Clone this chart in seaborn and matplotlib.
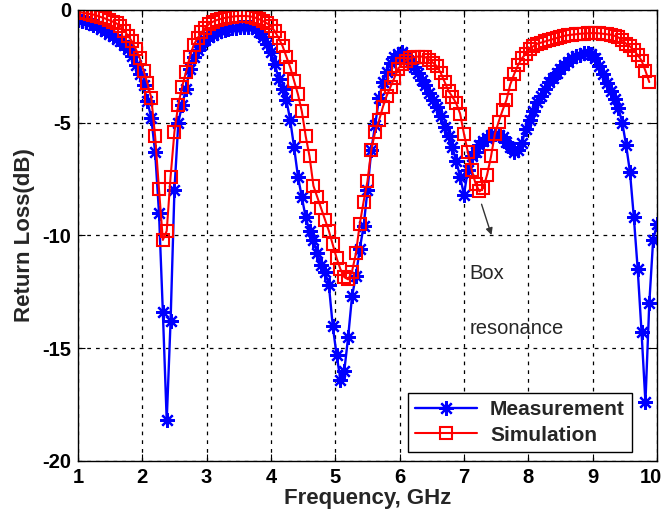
import matplotlib
matplotlib.use("Agg")
import matplotlib.pyplot as plt
import matplotlib.transforms as mtransforms
import seaborn as sns
import numpy as np

freq = [
    1.00, 1.06, 1.12, 1.18, 1.24, 1.30, 1.36, 1.42, 1.48, 1.54, 1.60, 1.66, 1.72, 1.78, 1.84, 1.90, 1.96,
    2.02, 2.08, 2.14, 2.20, 2.26, 2.32, 2.38, 2.44, 2.50, 2.56, 2.62, 2.68, 2.74, 2.80, 2.86, 2.92, 2.98,
    3.04, 3.10, 3.16, 3.22, 3.28, 3.34, 3.40, 3.46, 3.52, 3.58, 3.64, 3.70, 3.76, 3.82, 3.88, 3.94,
    4.00, 4.06, 4.12, 4.18, 4.24, 4.30, 4.36, 4.42, 4.48, 4.54, 4.60, 4.66, 4.72, 4.78, 4.84, 4.90, 4.96,
    5.02, 5.08, 5.14, 5.20, 5.26, 5.32, 5.38, 5.44, 5.50, 5.56, 5.62, 5.68, 5.74, 5.80, 5.86, 5.92, 5.98,
    6.04, 6.10, 6.16, 6.22, 6.28, 6.34, 6.40, 6.46, 6.52, 6.58, 6.64, 6.70, 6.76, 6.82, 6.88, 6.94,
    7.00, 7.06, 7.12, 7.18, 7.24, 7.30, 7.36, 7.42, 7.48, 7.54, 7.60, 7.66, 7.72, 7.78, 7.84, 7.90, 7.96,
    8.02, 8.08, 8.14, 8.20, 8.26, 8.32, 8.38, 8.44, 8.50, 8.56, 8.62, 8.68, 8.74, 8.80, 8.86, 8.92, 8.98,
    9.04, 9.10, 9.16, 9.22, 9.28, 9.34, 9.40, 9.46, 9.52, 9.58, 9.64, 9.70, 9.76, 9.82, 9.88, 9.94,
    10.00,
]

measurement = [
    -0.45, -0.50, -0.55, -0.60, -0.66, -0.73, -0.83, -0.95, -1.08, -1.18, -1.28, -1.40, -1.55, -1.75, -2.05, -2.45, -2.85,
    -3.35, -4.05, -4.80, -6.30, -9.00, -13.40, -18.20, -13.80, -8.00, -5.00, -4.20, -3.50, -2.60, -2.10, -1.80, -1.55, -1.35,
    -1.20, -1.10, -1.02, -0.95, -0.90, -0.86, -0.82, -0.80, -0.77, -0.75, -0.74, -0.76, -0.85, -1.00, -1.20, -1.50,
    -1.85, -2.40, -3.05, -3.50, -4.00, -4.90, -6.10, -7.40, -8.30, -9.20, -9.80, -10.20, -10.80, -11.30, -11.60, -12.20, -14.00,
    -15.30, -16.40, -16.00, -14.50, -12.70, -11.80, -10.60, -9.60, -8.00, -6.20, -5.10, -3.90, -3.20, -2.75, -2.35, -2.10, -1.95,
    -1.85, -2.05, -2.30, -2.55, -2.80, -3.10, -3.35, -3.70, -4.00, -4.30, -4.70, -5.20, -5.60, -6.10, -6.70, -7.40,
    -8.20, -7.10, -6.50, -6.30, -6.00, -5.80, -5.70, -5.55, -5.50, -5.55, -5.65, -5.85, -6.10, -6.30, -6.20, -5.90, -5.30,
    -4.90, -4.50, -4.10, -3.80, -3.50, -3.20, -3.00, -2.80, -2.60, -2.45, -2.30, -2.15, -2.05, -1.98, -1.92, -1.90, -1.95,
    -2.15, -2.50, -2.85, -3.25, -3.60, -3.95, -4.35, -5.00, -6.00, -7.20, -9.20, -11.50, -14.30, -17.40, -13.00, -10.20,
    -9.50,
]

simulation = [
    -0.10, -0.12, -0.15, -0.18, -0.21, -0.26, -0.32, -0.38, -0.45, -0.52, -0.60, -0.72, -0.92, -1.15, -1.40, -1.75, -2.14,
    -2.70, -3.25, -3.90, -5.60, -7.95, -10.20, -9.80, -7.40, -5.40, -4.20, -3.40, -2.75, -2.07, -1.55, -1.25, -1.00, -0.80,
    -0.62, -0.52, -0.45, -0.40, -0.36, -0.33, -0.30, -0.28, -0.27, -0.27, -0.28, -0.30, -0.35, -0.42, -0.50, -0.60,
    -0.72, -0.95, -1.25, -1.60, -2.07, -2.55, -3.15, -3.75, -4.50, -5.60, -6.50, -7.80, -8.30, -8.80, -9.30, -9.80, -10.40,
    -11.00, -11.50, -11.85, -11.95, -11.60, -10.80, -9.50, -8.50, -7.60, -6.20, -5.40, -4.90, -4.30, -3.80, -3.40, -3.00, -2.60,
    -2.40, -2.25, -2.15, -2.10, -2.07, -2.07, -2.10, -2.20, -2.35, -2.50, -2.80, -3.20, -3.60, -3.85, -4.15, -4.60,
    -5.50, -6.30, -7.10, -7.70, -8.05, -7.90, -7.30, -6.50, -5.50, -4.95, -4.45, -4.00, -3.30, -2.85, -2.45, -2.15, -1.95,
    -1.75, -1.60, -1.50, -1.45, -1.40, -1.35, -1.30, -1.25, -1.20, -1.15, -1.12, -1.10, -1.08, -1.06, -1.05, -1.04, -1.03,
    -1.03, -1.04, -1.06, -1.08, -1.10, -1.15, -1.22, -1.35, -1.50, -1.62, -1.80, -2.00, -2.25, -2.70, -3.20,
]
freq_sim = freq[:len(simulation)]

x_ticks = [1, 2, 3, 4, 5, 6, 7, 8, 9, 10]
y_ticks = [-20, -15, -10, -5, 0]

sns.set_style("white")
plt.rcParams['font.family'] = ['Liberation Sans', 'DejaVu Sans']

fig = plt.figure(figsize=(6.66, 5.2), dpi=100)
ax = fig.add_axes([0.117, 0.1135, 0.8695, 0.8675])

asterisk = (8, 2, 0)
sns.lineplot(x=freq, y=measurement, ax=ax, color='#0000FF', linewidth=1.7,
             marker=asterisk, markersize=10.5, markeredgewidth=1.6, markeredgecolor='#0000FF',
             label='Measurement', sort=False)
sns.lineplot(x=freq_sim, y=simulation, ax=ax, color='#FF0000', linewidth=1.5,
             marker='s', markersize=8.5, markeredgewidth=1.5, markeredgecolor='#FF0000',
             markerfacecolor='none', label='Simulation', sort=False)

ax.set_xlim(1, 10)
ax.set_ylim(-20, 0)
ax.set_xticks(x_ticks)
ax.set_yticks(y_ticks)
ax.set_xticklabels([str(t) for t in x_ticks], fontsize=14.5, fontweight='bold')
ax.set_yticklabels([str(t) for t in y_ticks], fontsize=14.5, fontweight='bold')
ax.tick_params(direction='in', length=5, width=0.8, colors='black', top=True, right=True,
               bottom=True, left=True, labeltop=False, labelright=False, pad=5)
# keep the last x tick label inside the figure
last = ax.get_xticklabels()[-1]
last.set_transform(last.get_transform() + mtransforms.ScaledTranslation(-6 / 100, 0, fig.dpi_scale_trans))

ax.grid(True, color='black', linestyle=(0, (3, 4)), linewidth=0.9)
for s in ax.spines.values():
    s.set_color('black')
    s.set_linewidth(1.0)

ax.set_xlabel('Frequency, GHz', fontsize=16, fontweight='bold', labelpad=1)
ax.set_ylabel('Return Loss(dB)', fontsize=16, fontweight='bold', labelpad=5)

ax.annotate('', xy=(7.44, -10.1), xytext=(7.26, -8.5),
            arrowprops=dict(arrowstyle='-|>', color='#333333', lw=1.0, mutation_scale=10))
ax.text(7.09, -11.95, 'Box', fontsize=14.5, ha='left', va='baseline')
ax.text(7.09, -14.35, 'resonance', fontsize=14.5, ha='left', va='baseline')

leg = ax.legend(loc='lower right', bbox_to_anchor=(0.957, 0.02), borderaxespad=0,
                prop={'size': 15, 'weight': 'bold'}, frameon=True, fancybox=False, edgecolor='black',
                framealpha=1, handlelength=3.0, borderpad=0.35, labelspacing=0.3, handletextpad=0.6)
leg.get_frame().set_linewidth(1.0)

fig.savefig('out.png', dpi=100)
